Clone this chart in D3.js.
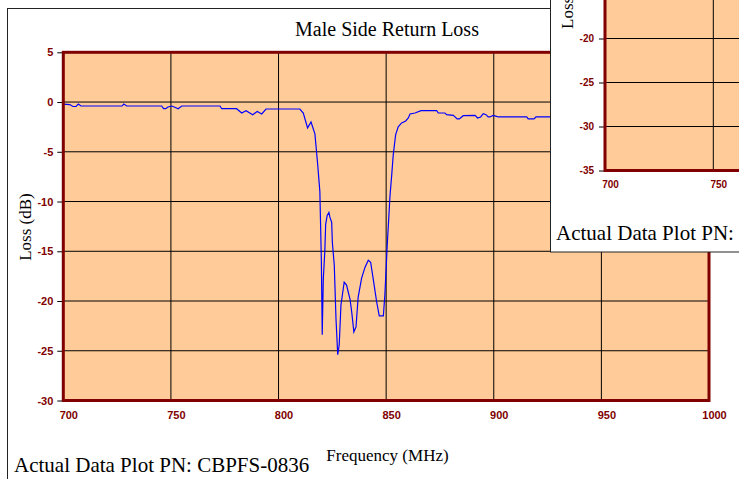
<!DOCTYPE html>
<html>
<head>
<meta charset="utf-8">
<script src="https://cdn.jsdelivr.net/npm/d3@7"></script>
<style>
html,body{margin:0;padding:0;background:#fff;overflow:hidden;}
svg{display:block;}
</style>
</head>
<body>
<svg id="chart" width="739" height="479"></svg>
<script>
// ---- data ----
const freqMHz = [700,703,704.5,705.9,707,708.2,727.3,728.1,729.5,745.7,746.6,747.6,748.6,750.5,753.4,755,772.8,773.6,780.5,782.9,784.9,788,790.1,792.2,794.2,809.9,811.5,813.5,815.1,816.9,818.2,819.2,819.9,820.3,820.8,821.5,821.9,822.6,823.4,823.9,824.7,825,825.9,826.7,827.5,828.2,829,830.5,831.6,833.2,834,835,836,837,838.6,840.2,841.7,842.8,844,845.6,846.8,848.7,849.4,850.5,851.8,852.6,853.3,854.4,855.6,857.2,859.1,860.3,861.1,863.4,866.2,873.5,874.2,877.3,878.1,881.2,883,884,885.8,891.3,892.5,893.9,895.1,896.4,897.4,898.2,899.7,901.3,902.1,915.3,916,918.7,919.6,927];
const lossDb = [-0.2,-0.25,-0.45,-0.45,-0.2,-0.4,-0.4,-0.2,-0.4,-0.4,-0.67,-0.67,-0.5,-0.4,-0.67,-0.4,-0.4,-0.67,-0.67,-1.1,-0.87,-1.27,-0.94,-1.2,-0.7,-0.7,-1.1,-2.6,-2.0,-3.2,-6.3,-9.0,-16.0,-23.4,-17.8,-15.0,-12.3,-11.4,-11.1,-11.6,-12.1,-14.1,-16.4,-21.8,-25.4,-24.4,-20.4,-18.1,-18.4,-19.8,-21.1,-23.1,-22.6,-19.6,-17.7,-16.6,-15.9,-16.1,-17.8,-20.1,-21.5,-21.5,-19.4,-14.4,-9.4,-7.3,-5.3,-3.3,-2.5,-2.1,-1.9,-1.6,-1.2,-1.1,-0.87,-0.87,-1.1,-1.1,-1.27,-1.34,-1.7,-1.7,-1.37,-1.34,-1.6,-1.5,-1.17,-1.27,-1.5,-1.5,-1.34,-1.44,-1.5,-1.5,-1.7,-1.7,-1.5,-1.5];
const xTicks = [700,750,800,850,900,950,1000];
const yTicks = [5,0,-5,-10,-15,-20,-25,-30];
const insetXTicks = [700,750];
const insetYTicks = [-20,-25,-30,-35];
const titleText = "Male Side Return Loss";
const xTitle = "Frequency (MHz)";
const yTitle = "Loss (dB)";
const footText = "Actual Data Plot PN: CBPFS-0836";
const insetFootText = "Actual Data Plot PN:";

// ---- styles ----
const PLOT_FILL = "#FFCC99";
const BORDER = "#800000";
const LABEL = "#800000";
const serif = "'Liberation Serif','Times New Roman',Times,serif";
const sans = "'Liberation Sans',Arial,Helvetica,sans-serif";
const fmt = d => String(d);

const svg = d3.select("#chart");

// ===== main chart =====
const x = d3.scaleLinear().domain([700,1000]).range([63.3,709]);
const y = d3.scaleLinear().domain([-30,5]).range([400.5,52.3]);

// outer chart frame
svg.append("rect").attr("x",7.5).attr("y",8.5).attr("width",760).attr("height",500)
  .attr("fill","#fff").attr("stroke","#222").attr("stroke-width",1);

// plot area
svg.append("rect").attr("x",x(700)).attr("y",y(5)).attr("width",x(1000)-x(700)).attr("height",y(-30)-y(5))
  .attr("fill",PLOT_FILL);

// gridlines
const grid = svg.append("g");
grid.selectAll("line.h").data(yTicks.filter(d=>d!==5 && d!==-30)).join("line")
  .attr("x1",x(700)).attr("x2",x(1000)).attr("y1",d=>y(d)).attr("y2",d=>y(d))
  .attr("stroke","#000").attr("stroke-width",1);
grid.selectAll("line.v").data(xTicks.filter(d=>d!==700 && d!==1000)).join("line")
  .attr("y1",y(5)).attr("y2",y(-30)).attr("x1",d=>x(d)).attr("x2",d=>x(d))
  .attr("stroke","#000").attr("stroke-width",1);

// y axis
const yAxis = svg.append("g").attr("transform",`translate(${x(700)},0)`)
  .call(d3.axisLeft(y).tickValues(yTicks).tickSize(6).tickPadding(4).tickFormat(fmt));
yAxis.select(".domain").remove();
yAxis.selectAll(".tick line").attr("stroke","#000");
yAxis.selectAll(".tick text").attr("fill",LABEL).style("font-family",sans).style("font-weight","bold").style("font-size","11px");

// x axis
const xAxis = svg.append("g").attr("transform",`translate(0,${y(-30)})`)
  .call(d3.axisBottom(x).tickValues(xTicks).tickSize(0).tickPadding(11).tickFormat(fmt));
xAxis.select(".domain").remove();
xAxis.selectAll(".tick text").attr("fill",LABEL).attr("dx",5).style("font-family",sans).style("font-weight","bold").style("font-size","11px");

// data line
svg.append("clipPath").attr("id","plotclip").append("rect")
  .attr("x",x(700)).attr("y",y(5)).attr("width",x(1000)-x(700)).attr("height",y(-30)-y(5));
const line = d3.line().x((d,i)=>x(freqMHz[i])).y(d=>y(d));
svg.append("path").datum(lossDb).attr("clip-path","url(#plotclip)")
  .attr("d",line).attr("fill","none").attr("stroke","#0000ff").attr("stroke-width",1.2);

// plot border
svg.append("rect").attr("x",x(700)).attr("y",y(5)).attr("width",x(1000)-x(700)).attr("height",y(-30)-y(5))
  .attr("fill","none").attr("stroke",BORDER).attr("stroke-width",3);

// titles
svg.append("text").attr("x",387).attr("y",36).attr("text-anchor","middle")
  .style("font-family",serif).style("font-size","20px").attr("fill","#000").text(titleText);
svg.append("text").attr("x",387.5).attr("y",460.5).attr("text-anchor","middle")
  .style("font-family",serif).style("font-size","17px").attr("fill","#000").text(xTitle);
svg.append("text").attr("transform","translate(31,227) rotate(-90)").attr("text-anchor","middle")
  .style("font-family",serif).style("font-size","17px").attr("fill","#000").text(yTitle);
svg.append("text").attr("x",14).attr("y",472)
  .style("font-family",serif).style("font-size","21px").attr("fill","#000").text(footText);

// ===== overlapping second chart window =====
const inset = svg.append("g");
inset.append("rect").attr("x",550.5).attr("y",-5).attr("width",200).attr("height",257)
  .attr("fill","#fff").attr("stroke","#222").attr("stroke-width",1);

const xi = d3.scaleLinear().domain([700,750]).range([605,713.3]);
const yi = d3.scaleLinear().domain([-35,-20]).range([170.5,38.5]);
const iTop = -10, iRight = 760;

inset.append("rect").attr("x",xi(700)).attr("y",iTop).attr("width",iRight-xi(700)).attr("height",yi(-35)-iTop)
  .attr("fill",PLOT_FILL);
inset.selectAll("line.h").data(insetYTicks.filter(d=>d!==-35)).join("line")
  .attr("x1",xi(700)).attr("x2",iRight).attr("y1",d=>yi(d)).attr("y2",d=>yi(d))
  .attr("stroke","#000").attr("stroke-width",1);
inset.selectAll("line.v").data(insetXTicks.filter(d=>d!==700)).join("line")
  .attr("x1",d=>xi(d)).attr("x2",d=>xi(d)).attr("y1",iTop).attr("y2",yi(-35))
  .attr("stroke","#000").attr("stroke-width",1);

const yiAxis = inset.append("g").attr("transform",`translate(${xi(700)},0)`)
  .call(d3.axisLeft(yi).tickValues(insetYTicks).tickSize(6).tickPadding(5).tickFormat(fmt));
yiAxis.select(".domain").remove();
yiAxis.selectAll(".tick line").attr("stroke","#000");
yiAxis.selectAll(".tick text").attr("fill",LABEL).style("font-family",sans).style("font-weight","bold").style("font-size","10px");

const xiAxis = inset.append("g").attr("transform",`translate(0,${yi(-35)})`)
  .call(d3.axisBottom(xi).tickValues(insetXTicks).tickSize(0).tickPadding(10).tickFormat(fmt));
xiAxis.select(".domain").remove();
xiAxis.selectAll(".tick text").attr("fill",LABEL).attr("dx",5).style("font-family",sans).style("font-weight","bold").style("font-size","10px");

// inset plot border (left and bottom visible)
inset.append("path")
  .attr("d",`M${xi(700)},${iTop}V${yi(-35)}H${iRight}`)
  .attr("fill","none").attr("stroke",BORDER).attr("stroke-width",3);

inset.append("text").attr("transform","translate(573,29) rotate(-90)").attr("text-anchor","start")
  .style("font-family",serif).style("font-size","17px").attr("fill","#000").text(yTitle);
inset.append("text").attr("x",556).attr("y",240)
  .style("font-family",serif).style("font-size","21px").attr("fill","#000").text(insetFootText);
</script>
</body>
</html>
